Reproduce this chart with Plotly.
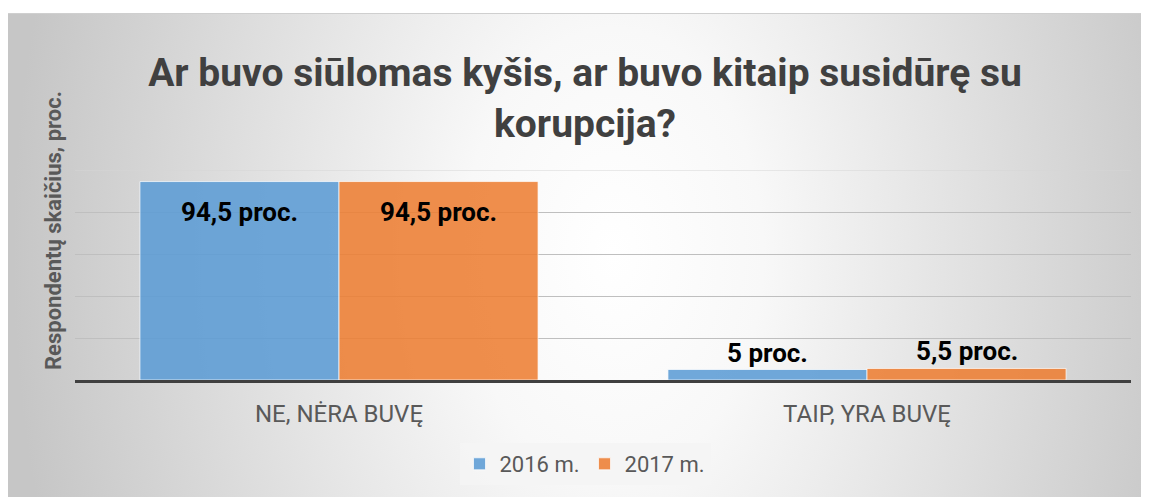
import base64
import plotly.graph_objects as go

# ---- data ----
categories = ["NE, NĖRA BUVĘ", "TAIP, YRA BUVĘ"]
series_names = ["2016 m.", "2017 m."]
values_2016 = [94.5, 5.0]
values_2017 = [94.5, 5.5]
series_values = [values_2016, values_2017]
y_ticks = [0, 20, 40, 60, 80, 100]

title_text = "Ar buvo siūlomas kyšis, ar buvo kitaip susidūrę su<br>korupcija?"
y_title = "Respondentų skaičius, proc."

# ---- styling (screen coords; page body adds an 8px offset) ----
OFF = 8
SW, SH = 1149, 497
W, H = SW - OFF, SH - OFF
PL, PR, PT, PB = 75, 1131, 170, 380          # plot area in screen px
L, R, T, B = PL - OFF, SW - PR, PT - OFF, SH - PB
PW, PH = PR - PL, PB - PT
colors = ["rgba(91,155,213,0.87)", "rgba(237,125,49,0.87)"]
BARGAP = 0.246
FONT = "Roboto"


def px_x(px):
    return (px - PL) / PW


def px_y(py):
    return (PB - py) / PH


def label(v):
    s = f"{v:.1f}".replace(".", ",")
    if s.endswith(",0"):
        s = s[:-2]
    return s + " proc."


BG_X0, BG_Y0 = 8, 13
bw_px, bh_px = SW - BG_X0, SH - BG_Y0
svg = f"""<svg xmlns='http://www.w3.org/2000/svg' width='{bw_px}' height='{bh_px}' viewBox='0 0 {bw_px} {bh_px}' preserveAspectRatio='none'>
<defs><radialGradient id='g' gradientUnits='userSpaceOnUse' cx='0' cy='0' r='1'
 gradientTransform='translate(605 240) scale(600 900)'>
<stop offset='0' stop-color='#ffffff'/><stop offset='0.25' stop-color='#f8f8f8'/>
<stop offset='1' stop-color='#c6c6c6'/></radialGradient></defs>
<rect x='0' y='0' width='{bw_px}' height='{bh_px}' fill='url(#g)'/>
<line x1='0' y1='0.5' x2='{bw_px}' y2='0.5' stroke='#cfcfcf' stroke-width='1'/>
</svg>"""
src = "data:image/svg+xml;base64," + base64.b64encode(svg.encode()).decode()

fig = go.Figure()
for name, vals, col in zip(series_names, series_values, colors):
    fig.add_trace(go.Bar(
        x=categories, y=vals, name=name,
        marker=dict(color=col, line=dict(color="rgba(255,255,255,0.7)", width=1)),
    ))

# data labels placed via the bar geometry of the category axis
bw = (1 - BARGAP) / len(series_names)
annotations = []
for si, vals in enumerate(series_values):
    off = (si - (len(series_names) - 1) / 2) * bw
    for ci, v in enumerate(vals):
        inside = v > 50
        annotations.append(dict(
            x=ci + off, y=v, xref="x", yref="y", text=f"<b>{label(v)}</b>",
            showarrow=False, yanchor="top" if inside else "bottom",
            yshift=-13 if inside else 0,
            font=dict(family=FONT, size=26, color="#000000"),
        ))

annotations.append(dict(
    x=px_x(53), y=px_y(231), xref="paper", yref="paper", text=f"<b>{y_title}</b>",
    textangle=-90, showarrow=False, xanchor="center", yanchor="middle",
    font=dict(family=FONT, size=22, color="#595959"),
))

fig.update_layout(
    width=W, height=H,
    margin=dict(l=L, r=R, t=T, b=B),
    paper_bgcolor="#ffffff", plot_bgcolor="rgba(0,0,0,0)",
    barmode="group", bargap=BARGAP, bargroupgap=0,
    title=dict(text=f"<b>{title_text}</b>", x=(585 - OFF) / W, xanchor="center",
               y=1 - (86 - OFF) / H, yanchor="middle", yref="container",
               font=dict(family=FONT, size=39, color="#404040")),
    showlegend=True,
    legend=dict(orientation="h", x=px_x(585), xanchor="center", y=px_y(464), yanchor="middle",
                bgcolor="rgba(245,245,245,0.85)", borderwidth=0,
                font=dict(family=FONT, size=22, color="#595959")),
    annotations=annotations,
    shapes=[dict(type="line", xref="paper", yref="y", x0=0, x1=1, y0=y_ticks[-1], y1=y_ticks[-1],
                 line=dict(color="#d6d6d6", width=1), layer="below")],
    images=[dict(source=src, xref="paper", yref="paper", x=px_x(BG_X0), y=px_y(BG_Y0),
                 sizex=bw_px / PW, sizey=bh_px / PH, xanchor="left", yanchor="top",
                 sizing="stretch", layer="below")],
)
fig.update_xaxes(showline=True, linecolor="#404040", linewidth=3, ticks="",
                 tickfont=dict(family=FONT, size=24, color="#595959"), ticklabelstandoff=10)
fig.update_yaxes(range=[0, 100], tickvals=y_ticks, showticklabels=False,
                 gridcolor="#bfbfbf", gridwidth=1, zeroline=False, showline=False)

fig.write_html("out.html")
